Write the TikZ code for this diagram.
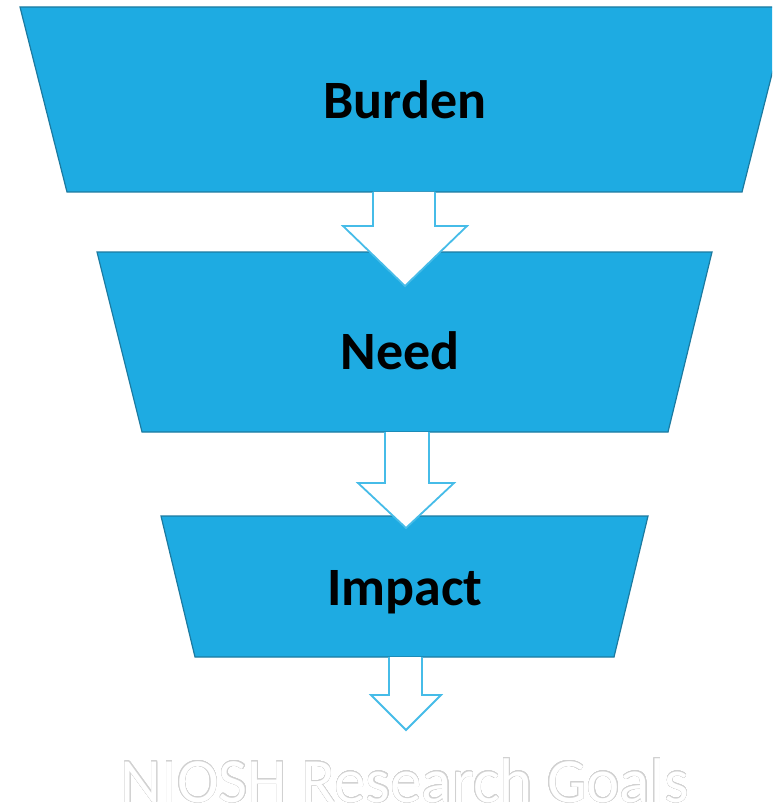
\documentclass[tikz,border=0pt]{standalone}
\usepackage{fontspec}
\setmainfont{Carlito}
\usepackage{contour}
\usepackage{tikz}
\usetikzlibrary{positioning}
\definecolor{funnelblue}{RGB}{30,171,226}
\definecolor{funneledge}{RGB}{28,122,160}
\definecolor{arrowedge}{RGB}{70,188,232}
\tikzset{stage/.style={fill=funnelblue,draw=funneledge,line width=1.2pt,line join=miter},
         flow/.style={fill=white,draw=arrowedge,line width=1.8pt,line join=miter},
         stagetext/.style={anchor=base,font=\fontsize{54}{60}\selectfont\bfseries,text=black,inner sep=0pt}}
\contourlength{0.4pt}
\contournumber{24}

\begin{document}
\begin{tikzpicture}[x=1pt,y=-1pt]
\useasboundingbox (0,0) rectangle (772,810);
\clip (0,0) rectangle (772,810);

\draw[stage] (20,7) -- (789,7) -- (742,192) -- (67,192) -- cycle;
\draw[stage] (97,252) -- (712,252) -- (668,432) -- (142,432) -- cycle;
\draw[stage] (161,516) -- (648,516) -- (614,657) -- (195,657) -- cycle;

\draw[flow] (373,192) -- (373,226) -- (343,226) -- (405,286) -- (467,226) -- (435,226) -- (435,192);
\draw[flow] (385,432) -- (385,483) -- (358,483) -- (406,528) -- (454,483) -- (429,483) -- (429,432);
\draw[flow] (389,657) -- (389,695) -- (371,695) -- (406,730) -- (441,695) -- (422,695) -- (422,657);

\node[stagetext] (burden) at (405,119) {Burden};
\node[stagetext] (need) at (400,369) {Need};
\node[stagetext] (impact) at (405,605) {Impact};

\node[anchor=base,inner sep=0pt,font=\fontsize{63}{66}\selectfont] (goals) at (405,802)
  {\contour{black!18}{\textcolor{white}{NIOSH Research Goals}}};
\end{tikzpicture}
\end{document}
